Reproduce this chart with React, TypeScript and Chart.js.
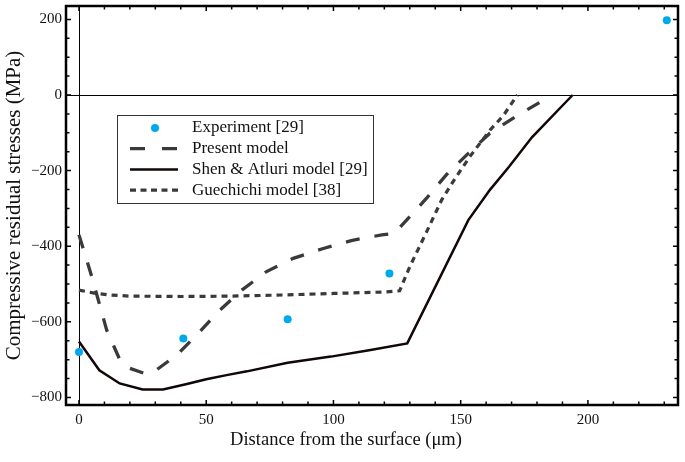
import React, { useEffect, useRef } from 'react';
import { Chart, registerables } from 'chart.js';

Chart.register(...registerables);

// ---- Data ----
const seriesLabels = ['Experiment [29]', 'Present model', 'Shen & Atluri model [29]', 'Guechichi model [38]'];

const experimentX = [0, 41, 82, 122, 231];
const experimentY = [-680, -644, -593, -472, 198];

const presentX = [0, 5, 10.9, 16.1, 20, 26, 30.5, 38.4, 47.5, 54.7, 64, 73.7, 84.2, 96, 107, 119, 124, 136.6, 144.5, 153.2, 161.5, 172.6, 182.7, 185];
const presentY = [-370, -480, -622, -701, -723, -737, -727, -688, -626, -573, -516, -467, -432, -406, -385, -370, -366, -273, -210, -153, -101, -53, -13, 0];

const shenX = [0, 8, 16, 25, 33, 42, 50, 58, 66, 82, 99, 114, 129, 153, 161.5, 169, 178, 194];
const shenY = [-652, -728, -763, -779, -779, -765, -752, -741, -731, -708, -692, -675, -657, -331, -251, -190, -112, 0];

const guechichiX = [0, 6, 12, 20, 40, 60, 80, 100, 120, 126, 130, 136.6, 142.5, 147, 153.6, 161.5, 166.7, 172.3];
const guechichiY = [-516, -524, -529, -532, -533, -532, -529, -525, -521, -518, -454, -362, -278, -229, -163, -93, -55, 0];

const xLabelValues = [0, 50, 100, 150, 200];
const xTickValues = [0, 10, 20, 30, 40, 50, 60, 70, 80, 90, 100, 110, 120, 130, 140, 150, 160, 170, 180, 190, 200, 210, 220, 230];
const yLabelValues = [-800, -600, -400, -200, 0, 200];
const yTickValues = [-800, -750, -700, -650, -600, -550, -500, -450, -400, -350, -300, -250, -200, -150, -100, -50, 0, 50, 100, 150, 200];

const xTitle = 'Distance from the surface (\u03bcm)';
const yTitle = 'Compressive residual stresses (MPa)';

const SERIF = "'Liberation Serif', 'Times New Roman', serif";
const CYAN = '#00A9EC';
const GREY = '#3a3a3a';
const BLACK = '#120606';

const zip = (xs: number[], ys: number[]) => xs.map((x, i) => ({ x, y: ys[i] }));
const fmt = (v: number) => (v < 0 ? '\u2212' + Math.abs(v) : String(v));

const framePlugin = {
  id: 'framePlugin',
  beforeDatasetsDraw(chart: any) {
    const { ctx, chartArea: a, scales } = chart;
    const x = scales.x, y = scales.y;
    ctx.save();
    ctx.strokeStyle = '#000';
    ctx.lineWidth = 1;
    const y0 = Math.round(y.getPixelForValue(0)) + 0.5;
    const x0 = Math.round(x.getPixelForValue(0)) + 0.5;
    ctx.beginPath();
    ctx.moveTo(a.left, y0);
    ctx.lineTo(a.right, y0);
    ctx.moveTo(x0, a.top);
    ctx.lineTo(x0, a.bottom);
    ctx.stroke();
    ctx.restore();
  },
  afterDraw(chart: any) {
    const { ctx, chartArea: a, scales } = chart;
    const x = scales.x, y = scales.y;
    ctx.save();
    // ticks (inward)
    ctx.strokeStyle = '#000';
    ctx.lineWidth = 1.5;
    ctx.beginPath();
    xTickValues.forEach((v) => {
      const px = x.getPixelForValue(v);
      const len = xLabelValues.includes(v) ? 5 : 3.5;
      ctx.moveTo(px, a.bottom);
      ctx.lineTo(px, a.bottom - len);
      ctx.moveTo(px, a.top);
      ctx.lineTo(px, a.top + len);
    });
    yTickValues.forEach((v) => {
      const py = y.getPixelForValue(v);
      const len = yLabelValues.includes(v) ? 5 : 3.5;
      ctx.moveTo(a.left, py);
      ctx.lineTo(a.left + len, py);
      ctx.moveTo(a.right, py);
      ctx.lineTo(a.right - len, py);
    });
    ctx.stroke();
    // frame
    ctx.lineWidth = 2.5;
    ctx.strokeRect(a.left, a.top, a.right - a.left, a.bottom - a.top);

    // x-axis title
    ctx.fillStyle = '#111';
    ctx.font = `18.5px ${SERIF}`;
    ctx.textAlign = 'center';
    ctx.textBaseline = 'middle';
    ctx.fillText(xTitle, 346, 440);

    // legend
    const bx = 117, by = 115, bw = 256, bh = 88;
    ctx.fillStyle = '#fff';
    ctx.fillRect(bx, by, bw, bh);
    ctx.lineWidth = 1;
    ctx.strokeStyle = '#333';
    ctx.strokeRect(bx + 0.5, by + 0.5, bw, bh);
    ctx.font = `17px ${SERIF}`;
    ctx.textBaseline = 'middle';
    ctx.textAlign = 'left';
    chart.data.datasets.forEach((ds: any, i: number) => {
      const cy = 128 + i * 20.7;
      if (ds.showLine === false) {
        ctx.fillStyle = ds.pointBackgroundColor;
        ctx.beginPath();
        ctx.arc(155, cy, ds.pointRadius, 0, Math.PI * 2);
        ctx.fill();
      } else {
        ctx.strokeStyle = ds.borderColor;
        ctx.lineWidth = ds.borderWidth;
        ctx.setLineDash(ds.legendDash || []);
        ctx.beginPath();
        ctx.moveTo(130, cy);
        ctx.lineTo(178, cy);
        ctx.stroke();
        ctx.setLineDash([]);
      }
      ctx.fillStyle = '#111';
      ctx.fillText(ds.label, 192, cy);
    });
    ctx.restore();
  },
};

export default function App() {
  const ref = useRef<HTMLCanvasElement>(null);
  useEffect(() => {
    if (!ref.current) return;
    const chart = new Chart(ref.current, {
      type: 'line',
      data: {
        datasets: [
          {
            label: seriesLabels[0],
            data: zip(experimentX, experimentY),
            showLine: false,
            pointRadius: 4,
            pointBackgroundColor: CYAN,
            pointBorderColor: CYAN,
            pointBorderWidth: 0,
            borderColor: CYAN,
          } as any,
          {
            label: seriesLabels[1],
            data: zip(presentX, presentY),
            borderColor: GREY,
            borderWidth: 3.3,
            borderDash: [14, 15],
            legendDash: [15, 17],
            pointRadius: 0,
            tension: 0,
            fill: false,
          },
          {
            label: seriesLabels[2],
            data: zip(shenX, shenY),
            borderColor: BLACK,
            borderWidth: 2.5,
            pointRadius: 0,
            tension: 0,
            fill: false,
          },
          {
            label: seriesLabels[3],
            data: zip(guechichiX, guechichiY),
            borderColor: GREY,
            borderWidth: 3.2,
            borderDash: [6, 5],
            legendDash: [6, 4.5],
            pointRadius: 0,
            tension: 0,
            fill: false,
          },
        ],
      },
      options: {
        animation: false,
        responsive: true,
        maintainAspectRatio: false,
        layout: { padding: { top: 6, right: 7, left: 0, bottom: 0 } },
        plugins: { legend: { display: false }, tooltip: { enabled: false } },
        scales: {
          x: {
            type: 'linear',
            min: -5.1,
            max: 235.4,
            grid: { display: false, drawTicks: false },
            border: { display: false },
            afterBuildTicks: (s: any) => {
              s.ticks = xLabelValues.map((v) => ({ value: v }));
            },
            afterFit: (s: any) => {
              s.height = 57;
              s.paddingLeft = 0;
              s.paddingRight = 0;
            },
            ticks: {
              autoSkip: false,
              maxRotation: 0,
              padding: 6,
              color: '#111',
              font: { family: SERIF, size: 15 },
              callback: (v: any) => fmt(Number(v)),
            },
            title: { display: false },
          },
          y: {
            type: 'linear',
            min: -820,
            max: 235.4,
            grid: { display: false, drawTicks: false },
            border: { display: false },
            afterBuildTicks: (s: any) => {
              s.ticks = yLabelValues.map((v) => ({ value: v }));
            },
            afterFit: (s: any) => {
              s.width = 66;
              s.paddingTop = 0;
              s.paddingBottom = 0;
            },
            ticks: {
              autoSkip: false,
              padding: 4,
              color: '#111',
              font: { family: SERIF, size: 15 },
              callback: (v: any) => fmt(Number(v)),
            },
            title: {
              display: true,
              text: yTitle,
              color: '#111',
              font: { family: SERIF, size: 21 },
              padding: { top: 1.4, bottom: 0 },
            },
          },
        },
      },
      plugins: [framePlugin],
    } as any);
    return () => chart.destroy();
  }, []);
  return (
    <div style={{ position: 'fixed', left: 0, top: 0, width: 685, height: 462, background: '#fff' }}>
      <canvas ref={ref} />
    </div>
  );
}
